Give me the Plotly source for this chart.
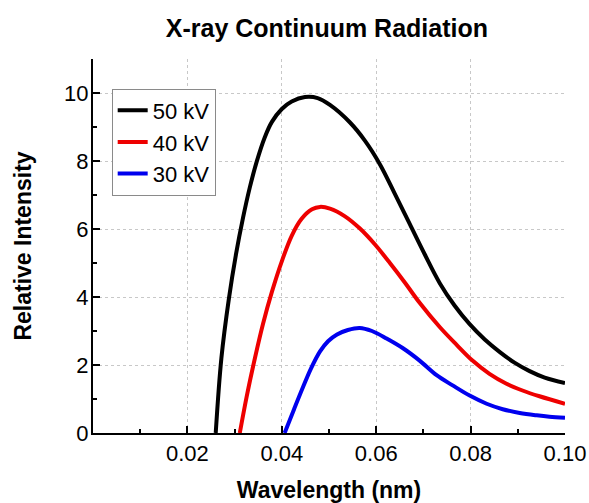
import plotly.graph_objects as go

# ---- data ----
wl_50 = [0.0260, 0.0272, 0.0288, 0.0303, 0.0318, 0.0332, 0.0347, 0.0364, 0.0379, 0.0400,
         0.0421, 0.0449, 0.0476, 0.0502, 0.0544, 0.0576, 0.0608, 0.0639, 0.0671, 0.0703,
         0.0735, 0.0766, 0.0798, 0.0830, 0.0862, 0.0893, 0.0925, 0.0957, 0.1000]
i_50 = [0.0, 2.2, 3.96, 5.26, 6.34, 7.21, 7.99, 8.70, 9.15, 9.53,
        9.75, 9.88, 9.85, 9.65, 9.14, 8.6, 7.9, 7.05, 6.15, 5.25,
        4.4, 3.75, 3.2, 2.75, 2.38, 2.07, 1.82, 1.63, 1.47]

wl_40 = [0.0311, 0.0326, 0.0343, 0.0360, 0.0379, 0.0400, 0.0421, 0.0442, 0.0464, 0.0481,
         0.0502, 0.0533, 0.0565, 0.0597, 0.0629, 0.0661, 0.0692, 0.0735, 0.0770, 0.0804,
         0.0840, 0.0876, 0.0910, 0.0946, 0.1000]
i_40 = [0.0, 1.1, 2.2, 3.2, 4.15, 5.05, 5.8, 6.3, 6.58, 6.65,
        6.6, 6.38, 6.02, 5.55, 5.0, 4.42, 3.83, 3.11, 2.6, 2.13,
        1.74, 1.45, 1.25, 1.08, 0.86]

wl_30 = [0.0406, 0.0426, 0.0445, 0.0462, 0.0481, 0.0498, 0.0517, 0.0540, 0.0565, 0.0591,
         0.0622, 0.0656, 0.0692, 0.0728, 0.0762, 0.0798, 0.0834, 0.0868, 0.0904, 0.0940,
         0.0967, 0.1000]
i_30 = [0.0, 0.7, 1.35, 1.9, 2.4, 2.7, 2.9, 3.03, 3.09, 3.0,
        2.78, 2.5, 2.13, 1.7, 1.4, 1.1, 0.86, 0.7, 0.59, 0.52,
        0.48, 0.45]

series_names = ["50 kV", "40 kV", "30 kV"]
series_colors = ["#000000", "#ee0000", "#0000ee"]

x_tickvals = [0, 0.02, 0.04, 0.06, 0.08, 0.10]
x_ticktext = ["", "0.02", "0.04", "0.06", "0.08", "0.10"]
x_minor = [0.01, 0.03, 0.05, 0.07, 0.09]
y_tickvals = [0, 2, 4, 6, 8, 10]
y_minor = [1, 3, 5, 7, 9, 11]

FONT = "Liberation Sans, Arial, sans-serif"

fig = go.Figure()
for wl, inten, name, col in zip([wl_50, wl_40, wl_30], [i_50, i_40, i_30], series_names, series_colors):
    fig.add_trace(go.Scatter(x=wl, y=inten, mode="lines", name=name,
                             line=dict(color=col, width=4, shape="spline", smoothing=1.0)))

axis_common = dict(showline=True, linecolor="black", linewidth=2, mirror=False,
                   ticks="inside", ticklen=7, tickwidth=2, tickcolor="black",
                   showgrid=True, gridcolor="#c8c8c8", gridwidth=1, griddash="dot",
                   zeroline=False, automargin=False,
                   tickfont=dict(family=FONT, size=22, color="black"))

fig.update_xaxes(range=[0, 0.10], tickvals=x_tickvals, ticktext=x_ticktext,
                 ticklabelstandoff=0,
                 minor=dict(tickvals=x_minor, ticks="inside", ticklen=4, tickwidth=2,
                            tickcolor="black", showgrid=False),
                 title=dict(text="<b>Wavelength (nm)</b>", font=dict(family=FONT, size=23, color="black"),
                            standoff=17),
                 **axis_common)
fig.update_yaxes(range=[0, 11], tickvals=y_tickvals,
                 ticklabelstandoff=-2,
                 minor=dict(tickvals=y_minor, ticks="inside", ticklen=4, tickwidth=2,
                            tickcolor="black", showgrid=False),
                 title=dict(text="<b>Relative Intensity</b>", font=dict(family=FONT, size=23, color="black"),
                            standoff=26),
                 **axis_common)

fig.update_layout(
    width=589, height=503,
    margin=dict(l=93, r=24, t=59, b=70),
    paper_bgcolor="white", plot_bgcolor="white",
    title=dict(text="<b>X-ray Continuum Radiation</b>", x=0.555, xanchor="center",
               y=1 - 28 / 503, yanchor="middle",
               font=dict(family=FONT, size=25, color="black")),
    legend=dict(x=0.0396, y=0.921, xanchor="left", yanchor="top",
                bgcolor="white", bordercolor="#8a8a8a", borderwidth=1,
                font=dict(family=FONT, size=22, color="black"), tracegroupgap=0),
    showlegend=True,
)

fig.write_html("out.html")
